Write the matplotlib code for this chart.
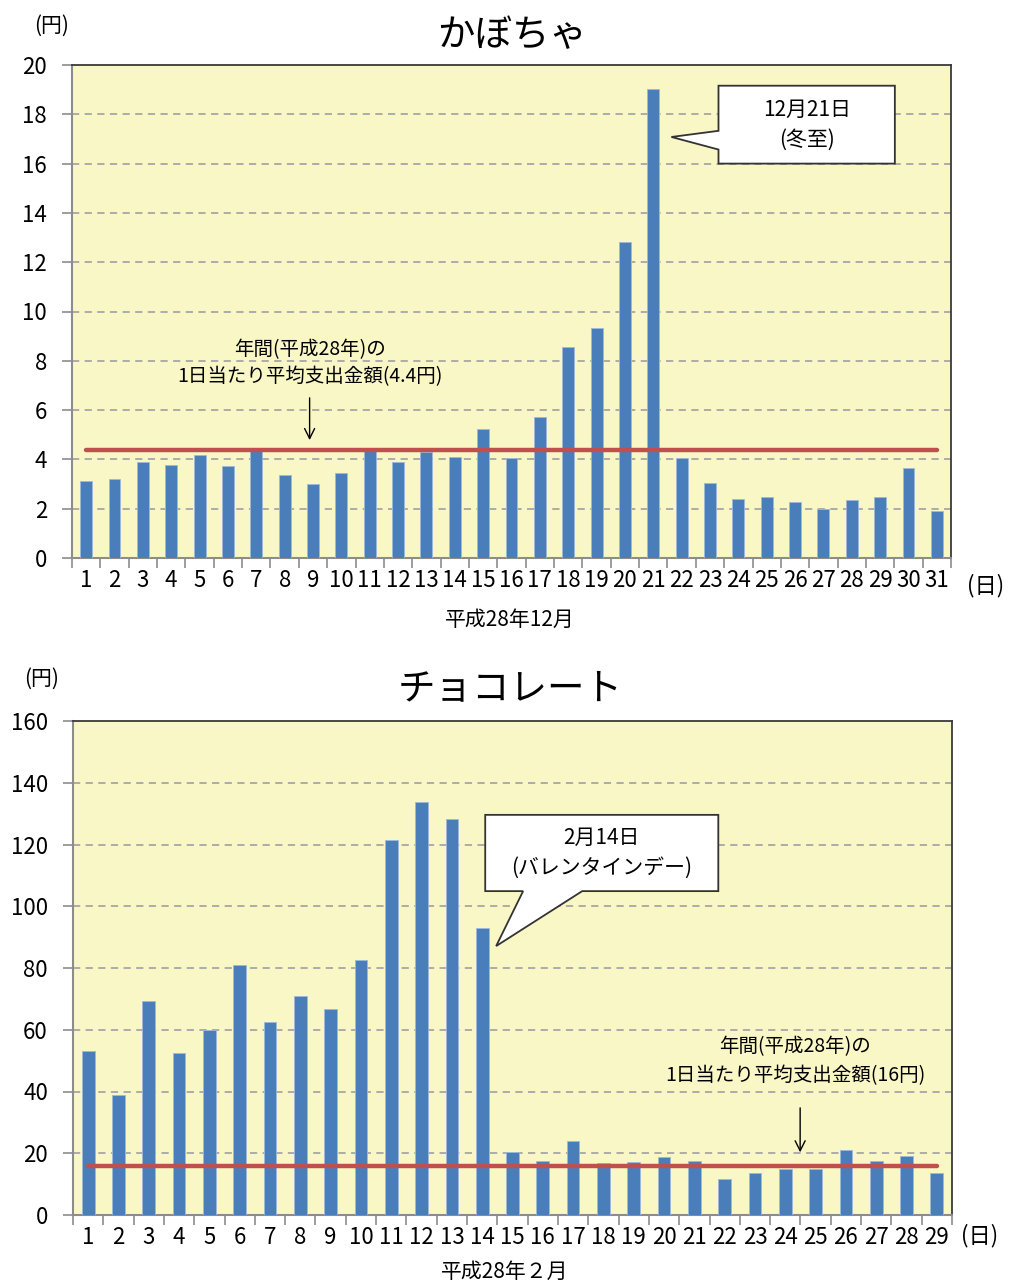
import numpy as np
import matplotlib.pyplot as plt
from matplotlib.patches import Polygon
from matplotlib.font_manager import FontProperties

plt.rcParams['font.family'] = ['Noto Sans CJK JP', 'DejaVu Sans']

# かぼちゃ, 平成28年12月 (円)
pumpkin_days = list(range(1, 32))
pumpkin_vals = [3.12, 3.20, 3.88, 3.77, 4.19, 3.72, 4.34, 3.38, 3.01, 3.46,
                4.34, 3.89, 4.30, 4.08, 5.22, 4.05, 5.70, 8.55, 9.35, 12.80,
                19.04, 4.06, 3.05, 2.41, 2.47, 2.28, 1.99, 2.35, 2.47, 3.66, 1.90]
pumpkin_avg = 4.4

# チョコレート, 平成28年2月 (円)
choco_days = list(range(1, 30))
choco_vals = [53.1, 38.9, 69.4, 52.6, 60.0, 81.1, 62.6, 70.8, 66.8, 82.5,
              121.5, 133.7, 128.1, 93.1, 20.5, 17.6, 24.1, 17.0, 17.1, 18.8,
              17.5, 11.8, 13.5, 14.9, 14.8, 20.9, 17.5, 19.1, 13.7]
choco_avg = 16

BAR = '#4A7EBB'
RED = '#C0504D'
BG = '#FAF7C6'
CJK = ['Noto Sans CJK JP', 'DejaVu Sans']
numfont = FontProperties(family='Noto Sans CJK JP', size=16)

fig = plt.figure(figsize=(10.09, 12.83), dpi=100)
W, H = 1009, 1283


def setup(ax, days, vals, ymax, ystep, avg):
    ax.set_facecolor(BG)
    ax.bar(days, vals, width=0.42, color=BAR, edgecolor='#9DB9DC', linewidth=0.6, zorder=3)
    ax.plot([days[0], days[-1]], [avg, avg], color=RED, lw=3.2, solid_capstyle='round', zorder=4)
    ax.set_xlim(0.5, len(days) + 0.5)
    ax.set_ylim(0, ymax)
    yt = np.arange(0, ymax + 1, ystep)
    ax.set_yticks(yt)
    ax.set_yticklabels([str(v) for v in yt], fontproperties=numfont)
    for v in yt[1:-1]:
        ax.axhline(v, color='#A6A6A6', lw=1.3, ls=(0, (4, 3)), zorder=1)
    # ticks sit between the days, labels under the bars
    ax.set_xticks(np.arange(0.5, len(days) + 1, 1))
    ax.set_xticklabels([])
    ax.set_xticks(days, minor=True)
    ax.set_xticklabels([str(d) for d in days], minor=True, fontproperties=numfont)
    ax.tick_params(axis='x', which='major', length=7, color='#8C8C8C', width=1.2, direction='out')
    ax.tick_params(axis='x', which='minor', length=0, pad=8)
    ax.tick_params(axis='y', length=7, color='#8C8C8C', width=1.2, pad=11)
    for s in ['left', 'bottom']:
        ax.spines[s].set_color('#8C8C8C')
        ax.spines[s].set_linewidth(1.5)
    for s in ['top', 'right']:
        ax.spines[s].set_color('#3A3A3A')
        ax.spines[s].set_linewidth(1.3)


def callout(ax, x0, x1, yb, yt, base, tip, side, lines, ys):
    if side == 'left':
        pts = [(x0, yt), (x1, yt), (x1, yb), (x0, yb), (x0, base[1]), tip, (x0, base[0])]
    else:
        pts = [(x0, yt), (x1, yt), (x1, yb), (base[1], yb), tip, (base[0], yb), (x0, yb)]
    ax.add_patch(Polygon(pts, closed=True, facecolor='white', edgecolor='#333333',
                         lw=1.3, zorder=6))
    for t, y in zip(lines, ys):
        ax.text((x0 + x1) / 2, y, t, ha='center', va='center', fontsize=15,
                family=CJK, zorder=7)


# ---- top: かぼちゃ
ax1 = fig.add_axes([72 / W, 1 - 558 / H, 879 / W, 493 / H])
setup(ax1, pumpkin_days, pumpkin_vals, 20, 2, pumpkin_avg)
callout(ax1, 23.3, 29.52, 16.0, 19.16, (17.33, 16.57), (21.64, 17.08), 'left',
        ['12月21日', '(冬至)'], [18.17, 16.96])
ax1.text(8.9, 8.44, '年間(平成28年)の', ha='center', va='center', fontsize=14, family=CJK)
ax1.text(8.9, 7.34, '1日当たり平均支出金額(4.4円)', ha='center', va='center', fontsize=14, family=CJK)
ax1.annotate('', xy=(8.88, 4.67), xytext=(8.88, 6.61),
             arrowprops=dict(arrowstyle='->', color='black', lw=1, mutation_scale=18))
fig.text(512 / W, 1 - 36 / H, 'かぼちゃ', ha='center', va='center', fontsize=27, family=CJK)
fig.text(52 / W, 1 - 26 / H, '(円)', ha='center', va='center', fontsize=15, family=CJK)
fig.text(986 / W, 1 - 586 / H, '(日)', ha='center', va='center', fontsize=16, family=CJK)
fig.text(510 / W, 1 - 620 / H, '平成28年12月', ha='center', va='center', fontsize=15, family=CJK)

# ---- bottom: チョコレート
ax2 = fig.add_axes([73 / W, 1 - 1215 / H, 879 / W, 494 / H])
setup(ax2, choco_days, choco_vals, 160, 20, choco_avg)
callout(ax2, 14.1, 21.79, 104.9, 129.6, (15.35, 17.3), (14.46, 87.1), 'bottom',
        ['2月14日', '(バレンタインデー)'], [122.1, 112.4])
ax2.text(24.33, 54.4, '年間(平成28年)の', ha='center', va='center', fontsize=14, family=CJK)
ax2.text(24.33, 45.3, '1日当たり平均支出金額(16円)', ha='center', va='center', fontsize=14, family=CJK)
ax2.annotate('', xy=(24.49, 19.4), xytext=(24.49, 35.6),
             arrowprops=dict(arrowstyle='->', color='black', lw=1, mutation_scale=18))
fig.text(510 / W, 1 - 689 / H, 'チョコレート', ha='center', va='center', fontsize=27, family=CJK)
fig.text(42 / W, 1 - 679 / H, '(円)', ha='center', va='center', fontsize=15, family=CJK)
fig.text(980 / W, 1 - 1236 / H, '(日)', ha='center', va='center', fontsize=16, family=CJK)
fig.text(505 / W, 1 - 1272 / H, '平成28年２月', ha='center', va='center', fontsize=15, family=CJK)

fig.savefig('out.png', dpi=100)
